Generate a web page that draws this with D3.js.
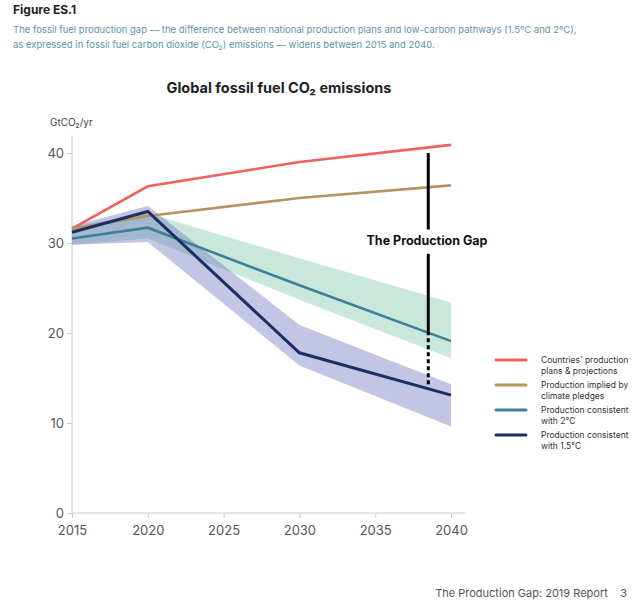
<!DOCTYPE html>
<html><head><meta charset="utf-8">
<script src="https://cdn.jsdelivr.net/npm/d3@7"></script>
<style>body{margin:0;background:#fff;font-family:Inter,"Noto Sans",sans-serif}</style>
</head><body><svg width="640" height="605"></svg>
<script>
var years = [2015, 2020, 2030, 2040];
var plans = [31.6, 36.3, 39.0, 40.9];
var pledges = [31.6, 33.0, 35.0, 36.4];
var twoC = [30.5, 31.7, 25.3, 19.1];
var twoCLow = [29.8, 30.5, 23.7, 17.2];
var twoCHigh = [31.8, 33.3, 28.3, 23.4];
var oneFive = [31.2, 33.5, 17.8, 13.1];
var oneFiveLow = [29.8, 30.1, 16.4, 9.6];
var oneFiveHigh = [31.9, 34.1, 20.9, 14.3];
var xTicks = [2015, 2020, 2025, 2030, 2035, 2040];
var yTicks = [0, 10, 20, 30, 40];
var legendLabels = [["Countries' production", "plans & projections"], ["Production implied by", "climate pledges"], ["Production consistent", "with 2°C"], ["Production consistent", "with 1.5°C"]];
var colors = ["#f0605d", "#b59462", "#3f7f99", "#1b2f66"];

var svg = d3.select("svg");
var x = d3.scaleLinear().domain([2015, 2040]).range([72, 451]);
var y = d3.scaleLinear().domain([0, 40]).range([513, 153]);

svg.append("text").attr("x", 13).attr("y", 14).attr("font-size", 12).attr("font-weight", "bold").attr("fill", "#222").text("Figure ES.1");
svg.append("text").attr("x", 13).attr("y", 33).attr("font-size", 9.5).attr("fill", "#5f93a5").text("The fossil fuel production gap — the difference between national production plans and low-carbon pathways (1.5ºC and 2ºC),");
svg.append("text").attr("x", 13).attr("y", 48).attr("font-size", 9.5).attr("fill", "#5f93a5").text("as expressed in fossil fuel carbon dioxide (CO₂) emissions — widens between 2015 and 2040.");
svg.append("text").attr("x", 279).attr("y", 93).attr("text-anchor", "middle").attr("font-size", 14.5).attr("font-weight", "bold").attr("fill", "#222").text("Global fossil fuel CO₂ emissions");
svg.append("text").attr("x", 50).attr("y", 126).attr("font-size", 10).attr("fill", "#444").text("GtCO₂/yr");

// axes
var gx = svg.append("g").attr("transform", "translate(0,513)").call(d3.axisBottom(x).tickValues(xTicks).tickFormat(d3.format("d")).tickSize(5));
gx.select(".domain").attr("d", "M72,0H466");
var gy = svg.append("g").attr("transform", "translate(72,0)").call(d3.axisLeft(y).tickValues(yTicks).tickSize(5));
gy.select(".domain").attr("d", "M0,135V513");
[gx, gy].forEach(function(g){
  g.selectAll("path,line").attr("stroke", "#ccc");
  g.selectAll("text").attr("font-size", 13).attr("fill", "#555").attr("font-family", "Inter,sans-serif");
});
gx.selectAll("text").attr("dy", "1.1em");

var area = function(lo, hi){
  return d3.area().x(function(d,i){return x(years[i])}).y0(function(d,i){return y(lo[i])}).y1(function(d,i){return y(hi[i])})(years);
};
svg.append("path").attr("d", area(twoCLow, twoCHigh)).attr("fill", "#9fd3bf").attr("opacity", 0.55);
svg.append("path").attr("d", area(oneFiveLow, oneFiveHigh)).attr("fill", "#6e74bd").attr("opacity", 0.42);

var line = d3.line().x(function(d,i){return x(years[i])}).y(function(d){return y(d)});
[plans, pledges, twoC, oneFive].forEach(function(s, k){
  svg.append("path").attr("d", line(s)).attr("fill", "none").attr("stroke", colors[k]).attr("stroke-width", k == 3 ? 3 : 2.6);
});

// production gap marker
var gx0 = x(2038.5);
svg.append("line").attr("x1", gx0).attr("x2", gx0).attr("y1", y(40)).attr("y2", y(31.5)).attr("stroke", "#000").attr("stroke-width", 3);
svg.append("line").attr("x1", gx0).attr("x2", gx0).attr("y1", y(28.8)).attr("y2", y(20.2)).attr("stroke", "#000").attr("stroke-width", 3);
svg.append("line").attr("x1", gx0).attr("x2", gx0).attr("y1", y(20.2)).attr("y2", y(14.3)).attr("stroke", "#000").attr("stroke-width", 3).attr("stroke-dasharray", "4,3");
svg.append("text").attr("x", 427).attr("y", 245).attr("text-anchor", "middle").attr("font-size", 12.5).attr("font-weight", "bold").attr("fill", "#111").text("The Production Gap");

// legend
var lg = svg.append("g");
legendLabels.forEach(function(l, k){
  var yy = 360 + k * 25;
  lg.append("line").attr("x1", 496).attr("x2", 526).attr("y1", yy).attr("y2", yy).attr("stroke", colors[k]).attr("stroke-width", 3).attr("stroke-linecap", "round");
  lg.append("text").attr("x", 541).attr("y", yy + 3).attr("font-size", 8.5).attr("fill", "#333").text(l[0]);
  lg.append("text").attr("x", 541).attr("y", yy + 14).attr("font-size", 8.5).attr("fill", "#333").text(l[1]);
});

svg.append("text").attr("x", 627).attr("y", 597).attr("text-anchor", "end").attr("font-size", 11).attr("fill", "#555").text("The Production Gap: 2019 Report    3").attr("xml:space", "preserve").style("white-space", "pre");
</script></body></html>
